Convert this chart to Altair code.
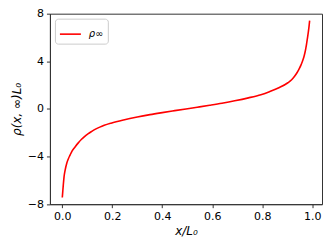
import altair as alt
import pandas as pd

x_vals = [0.0, 0.002, 0.004, 0.007, 0.0108, 0.0176, 0.024, 0.031, 0.04, 0.051,
          0.064, 0.077, 0.09, 0.104, 0.117, 0.131, 0.15, 0.168, 0.195, 0.245,
          0.3, 0.351, 0.4, 0.45, 0.495,
          0.54, 0.59, 0.639, 0.69, 0.745, 0.795, 0.829, 0.869, 0.903, 0.918,
          0.929, 0.94, 0.949, 0.956, 0.963, 0.968, 0.972, 0.975, 0.978, 0.982,
          0.985, 0.9875, 0.99]
y_vals = [-7.44, -6.9, -6.38, -5.7, -5.2, -4.58, -4.2, -3.88, -3.5, -3.19,
          -2.85, -2.55, -2.3, -2.08, -1.9, -1.72, -1.53, -1.38, -1.2, -0.93,
          -0.68, -0.48, -0.31, -0.145, 0.0,
          0.145, 0.31, 0.48, 0.68, 0.93, 1.2, 1.45, 1.8, 2.2, 2.45,
          2.72, 3.06, 3.4, 3.72, 4.1, 4.45, 4.8, 5.12, 5.5, 6.05,
          6.5, 6.92, 7.42]
series = ["ρ∞"] * len(x_vals)
x_ticks = [0.0, 0.2, 0.4, 0.6, 0.8, 1.0]
y_ticks = [-8, -4, 0, 4, 8]

df = pd.DataFrame({"x": x_vals, "y": y_vals, "s": series})

FONT = "DejaVu Sans"

chart = alt.Chart(df).mark_line(strokeWidth=1.6, interpolate="monotone", clip=True).encode(
    x=alt.X("x:Q", scale=alt.Scale(domain=[-0.0495, 1.0395], nice=False, zero=False),
            axis=alt.Axis(values=x_ticks, format=".1f", title="x/L₀", grid=False,
                          tickSize=3.5, labelPadding=3, titlePadding=4,
                          titleFontStyle="italic", titleFontWeight="normal")),
    y=alt.Y("y:Q", scale=alt.Scale(domain=[-8, 8], nice=False),
            axis=alt.Axis(values=y_ticks, format="d", title="ρ(x, ∞)L₀", grid=False,
                          tickSize=3.5, labelPadding=3, titlePadding=4,
                          titleFontStyle="italic", titleFontWeight="normal")),
    color=alt.Color("s:N", scale=alt.Scale(domain=["ρ∞"], range=["#ff0000"]),
                    legend=alt.Legend(title=None, orient="top-left", offset=5,
                                      symbolType="stroke", symbolSize=441,
                                      symbolStrokeWidth=1.6, padding=4,
                                      strokeColor="#cccccc", fillColor="white",
                                      cornerRadius=3, labelFontStyle="italic",
                                      labelFont=FONT, labelFontSize=10,
                                      labelOffset=7)),
).properties(
    width=272.5,
    height=190.8,
    autosize=alt.AutoSizeParams(type="none"),
    padding={"left": 42, "top": 5.5, "right": 2, "bottom": 40},
).configure_axis(
    labelFont=FONT, titleFont=FONT, labelFontSize=11, titleFontSize=12,
    labelColor="black", titleColor="black", domainColor="#333333",
    tickColor="#333333", domainWidth=1, tickWidth=1,
).configure_view(
    stroke="#333333", strokeWidth=1,
)

chart.save("out.html", embed_options={"renderer": "svg", "actions": False})
